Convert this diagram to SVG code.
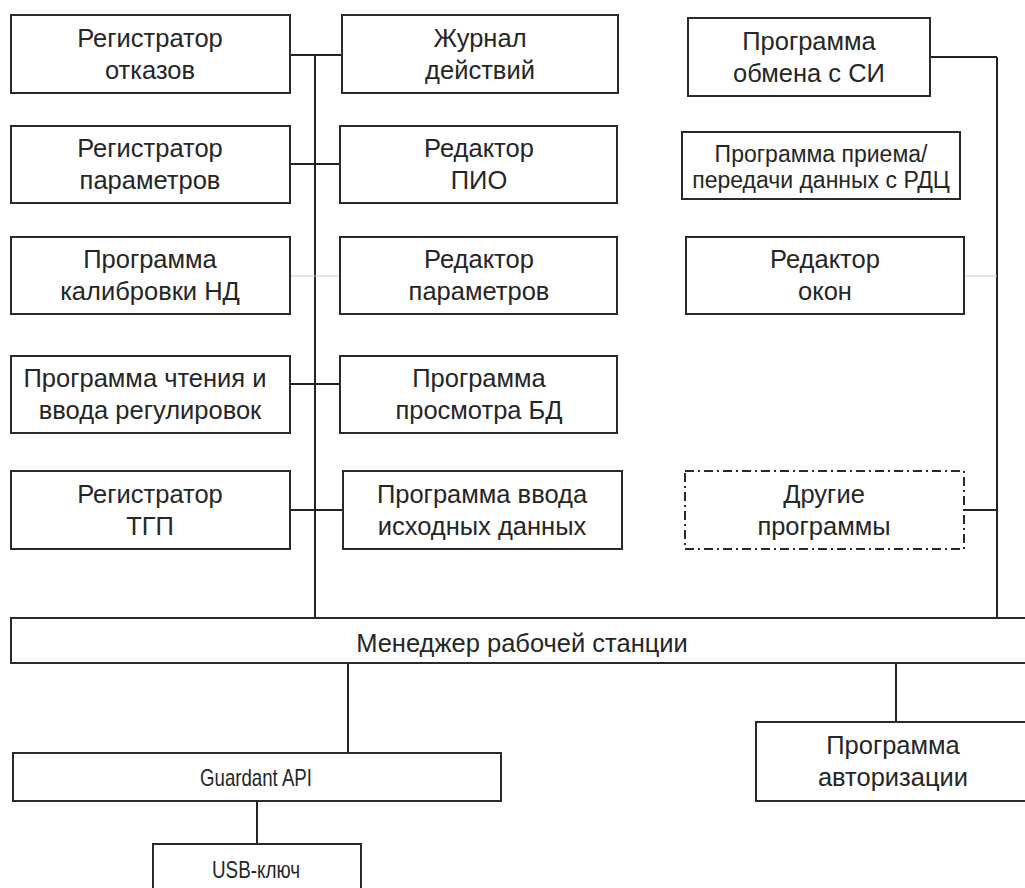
<svg xmlns="http://www.w3.org/2000/svg" width="1025" height="888" viewBox="0 0 1025 888">
<style>
.b{fill:#fff;stroke:#2a2a2a;stroke-width:2}
.d{fill:#fff;stroke:#2a2a2a;stroke-width:2;stroke-dasharray:9 4 2 4}
.t{font-family:"Liberation Sans",Arial,sans-serif;font-size:25.5px;fill:#262626;text-anchor:middle}
.s{font-size:23px}
.n{font-size:24px}
.c{fill:none;stroke:#222;stroke-width:2}
.f{fill:none;stroke:#c8c8c8;stroke-width:1}
</style>
<rect width="1025" height="888" fill="#fff"/>
<g id="connectors">
<path class="c" d="M315 55V618M290 55H342M290 164H340M290 384H340M290 510H343"/>
<path class="c" d="M997 57V618M930 57H997M964 510H997"/>
<path class="f" d="M290 276H340M964 276H997"/>
<path class="c" d="M348 663V753M896 663V722M257 801V844"/>
</g>
<g id="reg-otkazov"><rect class="b" x="11" y="15" width="279" height="78"/><text class="t" x="150" y="47">Регистратор</text><text class="t" x="150" y="79">отказов</text></g>
<g id="zhurnal"><rect class="b" x="342" y="15" width="276" height="78"/><text class="t" x="480" y="47">Журнал</text><text class="t" x="480" y="79">действий</text></g>
<g id="reg-param"><rect class="b" x="11" y="126" width="279" height="77"/><text class="t" x="150" y="157">Регистратор</text><text class="t" x="150" y="189">параметров</text></g>
<g id="red-pio"><rect class="b" x="340" y="126" width="277" height="77"/><text class="t" x="479" y="157">Редактор</text><text class="t" x="479" y="189">ПИО</text></g>
<g id="kalibr"><rect class="b" x="11" y="237" width="279" height="77"/><text class="t" x="150" y="268">Программа</text><text class="t" x="150" y="300">калибровки НД</text></g>
<g id="red-param"><rect class="b" x="340" y="237" width="277" height="77"/><text class="t" x="479" y="268">Редактор</text><text class="t" x="479" y="300">параметров</text></g>
<g id="chtenie"><rect class="b" x="11" y="356" width="279" height="77"/><text class="t" x="145" y="387">Программа чтения и</text><text class="t" x="150" y="419">ввода регулировок</text></g>
<g id="prosmotr"><rect class="b" x="340" y="356" width="277" height="77"/><text class="t" x="479" y="387">Программа</text><text class="t" x="479" y="419">просмотра БД</text></g>
<g id="reg-tgp"><rect class="b" x="11" y="471" width="279" height="78"/><text class="t" x="150" y="503">Регистратор</text><text class="t" x="150" y="535">ТГП</text></g>
<g id="vvod"><rect class="b" x="343" y="471" width="279" height="78"/><text class="t" x="482" y="503">Программа ввода</text><text class="t" x="482" y="535">исходных данных</text></g>
<g id="obmen-si"><rect class="b" x="688" y="18" width="242" height="78"/><text class="t" x="809" y="50">Программа</text><text class="t" x="809" y="82">обмена с СИ</text></g>
<g id="rdc"><rect class="b" x="682" y="132" width="278" height="67"/><text class="t s" x="821" y="162">Программа приема/</text><text class="t s" x="821" y="188">передачи данных с РДЦ</text></g>
<g id="red-okon"><rect class="b" x="686" y="237" width="278" height="77"/><text class="t" x="825" y="268">Редактор</text><text class="t" x="825" y="300">окон</text></g>
<g id="drugie"><rect class="d" x="685" y="471" width="279" height="78"/><text class="t" x="824" y="503">Другие</text><text class="t" x="824" y="535">программы</text></g>
<g id="manager"><rect class="b" x="11" y="618" width="1025" height="45"/><text class="t" x="522" y="652">Менеджер рабочей станции</text></g>
<g id="guardant"><rect class="b" x="13" y="753" width="488" height="48"/><text class="t n" x="256" y="786" textLength="112" lengthAdjust="spacingAndGlyphs">Guardant API</text></g>
<g id="auth"><rect class="b" x="756" y="722" width="280" height="79"/><text class="t" x="893" y="754">Программа</text><text class="t" x="893" y="786">авторизации</text></g>
<g id="usb"><rect class="b" x="153" y="844" width="208" height="60"/><text class="t n" x="256" y="878" textLength="88" lengthAdjust="spacingAndGlyphs">USB-ключ</text></g>
</svg>
